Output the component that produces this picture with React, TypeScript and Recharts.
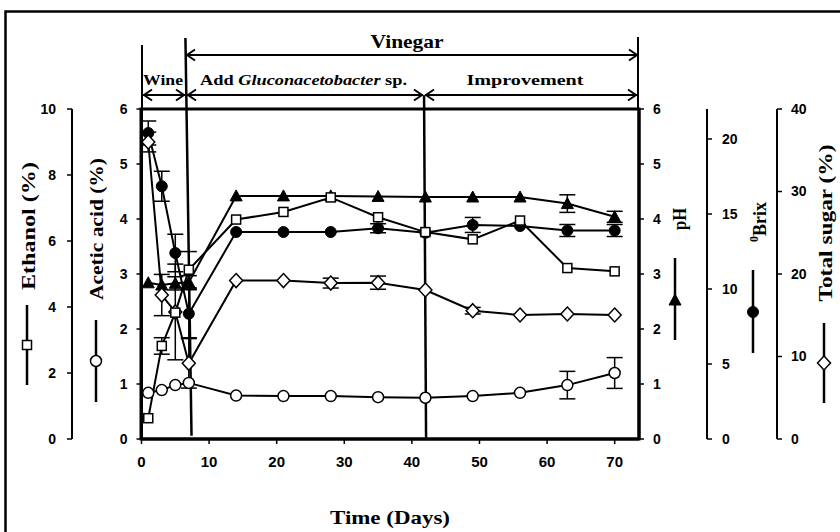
import React from 'react';
import { LineChart, Line, XAxis, YAxis, ErrorBar, ReferenceLine } from 'recharts';

// ---- data ----
const days = [1, 3, 5, 7, 14, 21, 28, 35, 42, 49, 56, 63, 70];
const ethanol = [0.63, 2.82, 3.83, 5.13, 6.65, 6.88, 7.32, 6.72, 6.27, 6.05, 6.62, 5.18, 5.08];
const ethanolErr = [null, 0.25, null, 0.55, null, null, null, null, null, null, null, null, null];
const aceticAcid = [0.84, 0.89, 0.98, 1.02, 0.79, 0.78, 0.78, 0.76, 0.75, 0.78, 0.84, 0.98, 1.2];
const aceticErr = [null, null, null, null, null, null, null, null, null, null, null, 0.25, 0.28];
const pH = [2.84, 2.8, 2.83, 2.85, 4.42, 4.42, 4.42, 4.41, 4.4, 4.4, 4.4, 4.28, 4.04];
const pHErr = [null, null, 0.12, 0.12, null, null, null, null, null, null, null, 0.16, 0.1];
const brix = [20.4, 16.85, 12.4, 8.35, 13.8, 13.8, 13.8, 14.05, 13.75, 14.27, 14.2, 13.9, 13.9];
const brixErr = [0.8, 1.0, 1.25, 1.6, null, null, null, 0.3, null, 0.5, null, 0.4, 0.4];
const sugar = [36.0, 17.45, 15.4, 9.17, 19.2, 19.2, 18.9, 18.95, 18.06, 15.55, 15.03, 15.15, 15.03];
const sugarErr = [1.2, 2.5, 5.8, 3.0, null, null, 0.6, 0.8, null, 0.4, null, null, null];

const xTicks = [0, 10, 20, 30, 40, 50, 60, 70];
const acidTicks = [0, 1, 2, 3, 4, 5, 6];
const ethTicks = [0, 2, 4, 6, 8, 10];
const phTicks = [0, 1, 2, 3, 4, 5, 6];
const brixTicks = [0, 5, 10, 15, 20];
const sugarTicks = [0, 10, 20, 30, 40];

const rows = days.map((d, i) => ({
  day: d,
  ethanol: ethanol[i],
  ethanolErr: ethanolErr[i],
  acid: aceticAcid[i],
  acidErr: aceticErr[i],
  ph: pH[i],
  phErr: pHErr[i],
  brix: brix[i],
  brixErr: brixErr[i],
  sugar: sugar[i],
  sugarErr: sugarErr[i],
}));

// ---- marker shapes ----
const sq = (cx: number, cy: number, k?: string) => (
  <rect key={k} x={cx - 4.5} y={cy - 4.5} width={9} height={9} fill="#fff" stroke="#000" strokeWidth={1.5} />
);
const oc = (cx: number, cy: number, k?: string) => (
  <circle key={k} cx={cx} cy={cy} r={5.5} fill="#fff" stroke="#000" strokeWidth={1.5} />
);
const tri = (cx: number, cy: number, k?: string) => (
  <path key={k} d={`M${cx},${cy - 6} L${cx + 6},${cy + 5} L${cx - 6},${cy + 5} Z`} fill="#000" stroke="#000" strokeWidth={1} />
);
const fc = (cx: number, cy: number, k?: string) => (
  <circle key={k} cx={cx} cy={cy} r={5.5} fill="#000" stroke="#000" strokeWidth={1} />
);
const dia = (cx: number, cy: number, k?: string) => (
  <path key={k} d={`M${cx},${cy - 7} L${cx + 6.5},${cy} L${cx},${cy + 7} L${cx - 6.5},${cy} Z`} fill="#fff" stroke="#000" strokeWidth={1.5} />
);

const dotOf = (fn: any, name: string) => (p: any) =>
  p.cx == null || p.cy == null ? <g key={`${name}-${p.index}`} /> : fn(p.cx, p.cy, `${name}-${p.index}`);

const tickFont = { fill: '#000', fontSize: 14, fontWeight: 'bold', fontFamily: 'Liberation Sans, Arial, sans-serif' };
const axisLineThin = { stroke: '#000', strokeWidth: 2 };
const axisLineThick = { stroke: '#000', strokeWidth: 3 };
const tickLineStyle = { stroke: '#000', strokeWidth: 1.5 };

const serif = 'Liberation Serif, Times New Roman, serif';

const arrow = (x1: number, x2: number, y: number, k: string) => (
  <g key={k} stroke="#000" strokeWidth={2} fill="none">
    <line x1={x1} y1={y} x2={x2} y2={y} />
    <polyline points={`${x1 + 9},${y - 5.5} ${x1 + 1},${y} ${x1 + 9},${y + 5.5}`} />
    <polyline points={`${x2 - 9},${y - 5.5} ${x2 - 1},${y} ${x2 - 9},${y + 5.5}`} />
  </g>
);

const vTitle = (txt: any, cx: number, cy: number, len: number, k: string) => (
  <text
    key={k}
    x={0}
    y={0}
    transform={`translate(${cx},${cy}) rotate(-90)`}
    textAnchor="middle"
    dominantBaseline="central"
    fontFamily={serif}
    fontWeight="bold"
    fontSize={18}
    textLength={len}
    lengthAdjust="spacingAndGlyphs"
    fill="#000"
  >
    {txt}
  </text>
);

const legendSym = (x: number, y1: number, y2: number, my: number, fn: any, k: string) => (
  <g key={k}>
    <line x1={x} y1={y1} x2={x} y2={y2} stroke="#000" strokeWidth={2.5} />
    {fn(x, my)}
  </g>
);

export default function App() {
  return (
    <div style={{ position: 'absolute', left: 0, top: 0, width: 840, height: 532, background: '#fff' }}>
      <LineChart
        width={840}
        height={532}
        data={rows}
        margin={{ top: 109, right: 23, bottom: 63, left: 11 }}
      >
        <XAxis
          type="number"
          dataKey="day"
          domain={[0, 73.6]}
          ticks={xTicks}
          allowDataOverflow
          height={30}
          tickSize={5}
          tickMargin={12}
          axisLine={axisLineThick}
          tickLine={tickLineStyle}
          tick={{ ...tickFont, fontSize: 15 }}
        />
        <YAxis
          yAxisId="l1_acid"
          orientation="left"
          width={69.5}
          domain={[0, 6]}
          ticks={acidTicks}
          allowDataOverflow
          tickSize={5}
          tickMargin={9}
          axisLine={axisLineThick}
          tickLine={tickLineStyle}
          tick={tickFont}
        />
        <YAxis
          yAxisId="l2_eth"
          orientation="left"
          width={61}
          domain={[0, 10]}
          ticks={ethTicks}
          allowDataOverflow
          tickSize={5}
          tickMargin={11}
          axisLine={axisLineThin}
          tickLine={tickLineStyle}
          tick={tickFont}
        />
        <YAxis
          yAxisId="r1_ph"
          orientation="right"
          width={68}
          domain={[0, 6]}
          ticks={phTicks}
          allowDataOverflow
          tickSize={5}
          tickMargin={9}
          axisLine={axisLineThick}
          tickLine={tickLineStyle}
          tick={tickFont}
        />
        <YAxis
          yAxisId="r2_brix"
          orientation="right"
          width={70}
          domain={[0, 22]}
          ticks={brixTicks}
          allowDataOverflow
          tickSize={5}
          tickMargin={10}
          axisLine={axisLineThin}
          tickLine={tickLineStyle}
          tick={tickFont}
        />
        <YAxis
          yAxisId="r3_sugar"
          orientation="right"
          width={40}
          domain={[0, 40]}
          ticks={sugarTicks}
          allowDataOverflow
          tickSize={5}
          tickMargin={9}
          axisLine={axisLineThin}
          tickLine={tickLineStyle}
          tick={tickFont}
        />

        <ReferenceLine
          yAxisId="l1_acid"
          segment={[{ x: 6.5, y: 7.29 }, { x: 7.4, y: 0.06 }]}
          ifOverflow="visible"
          stroke="#000"
          strokeWidth={2.5}
        />
        <ReferenceLine
          yAxisId="l1_acid"
          segment={[{ x: 41.8, y: 6.25 }, { x: 42.1, y: 0 }]}
          ifOverflow="visible"
          stroke="#000"
          strokeWidth={2.5}
        />

        <Line yAxisId="r1_ph" dataKey="ph" stroke="#000" strokeWidth={2} isAnimationActive={false} dot={dotOf(tri, 'ph')}>
          <ErrorBar dataKey="phErr" width={8} stroke="#000" strokeWidth={1.5} direction="y" />
        </Line>
        <Line yAxisId="r2_brix" dataKey="brix" stroke="#000" strokeWidth={2} isAnimationActive={false} dot={dotOf(fc, 'bx')}>
          <ErrorBar dataKey="brixErr" width={8} stroke="#000" strokeWidth={1.5} direction="y" />
        </Line>
        <Line yAxisId="r3_sugar" dataKey="sugar" stroke="#000" strokeWidth={2} isAnimationActive={false} dot={dotOf(dia, 'sg')}>
          <ErrorBar dataKey="sugarErr" width={8} stroke="#000" strokeWidth={1.5} direction="y" />
        </Line>
        <Line yAxisId="l2_eth" dataKey="ethanol" stroke="#000" strokeWidth={2} isAnimationActive={false} dot={dotOf(sq, 'et')}>
          <ErrorBar dataKey="ethanolErr" width={8} stroke="#000" strokeWidth={1.5} direction="y" />
        </Line>
        <Line yAxisId="l1_acid" dataKey="acid" stroke="#000" strokeWidth={2} isAnimationActive={false} dot={dotOf(oc, 'ac')}>
          <ErrorBar dataKey="acidErr" width={8} stroke="#000" strokeWidth={1.5} direction="y" />
        </Line>
      </LineChart>

      <svg
        width={840}
        height={532}
        style={{ position: 'absolute', left: 0, top: 0, pointerEvents: 'none', overflow: 'visible' }}
      >
        {/* outer frame */}
        <rect x={5.5} y={11.5} width={850} height={540} fill="none" stroke="#000" strokeWidth={2.5} />
        {/* plot box */}
        <rect x={141} y={109} width={498} height={330} fill="none" stroke="#000" strokeWidth={3} />

        {/* stage brackets */}
        <line x1={142} y1={45} x2={142} y2={109} stroke="#000" strokeWidth={2} />
        <line x1={638} y1={37} x2={638} y2={109} stroke="#000" strokeWidth={2} />
        {arrow(186, 638, 55, 'a-vin')}
        {arrow(143, 185, 95, 'a-wine')}
        {arrow(187, 423, 95, 'a-add')}
        {arrow(425, 637, 95, 'a-imp')}
        <text x={407} y={48} textAnchor="middle" fontFamily={serif} fontWeight="bold" fontSize={19} textLength={73} lengthAdjust="spacingAndGlyphs">
          Vinegar
        </text>
        <text x={163} y={85} textAnchor="middle" fontFamily={serif} fontWeight="bold" fontSize={15} textLength={40} lengthAdjust="spacingAndGlyphs">
          Wine
        </text>
        <text x={303.5} y={85} textAnchor="middle" fontFamily={serif} fontWeight="bold" fontSize={15} textLength={207} lengthAdjust="spacingAndGlyphs">
          Add <tspan fontStyle="italic">Gluconacetobacter</tspan> sp.
        </text>
        <text x={525} y={85} textAnchor="middle" fontFamily={serif} fontWeight="bold" fontSize={15} textLength={117} lengthAdjust="spacingAndGlyphs">
          Improvement
        </text>

        {/* axis titles */}
        {vTitle('Ethanol (%)', 29, 226, 128, 't-eth')}
        {vTitle('Acetic acid (%)', 97, 229, 142, 't-ac')}
        {vTitle('pH', 680, 219, 22, 't-ph')}
        <text
          x={0}
          y={0}
          transform="translate(760,222) rotate(-90)"
          textAnchor="middle"
          dominantBaseline="central"
          fontFamily={serif}
          fontWeight="bold"
          fontSize={18}
          fill="#000"
        >
          <tspan fontSize={12} dy={-6}>0</tspan>
          <tspan dy={6}>Brix</tspan>
        </text>
        {vTitle('Total sugar (%)', 826, 223, 157, 't-sg')}

        {/* legend symbols */}
        {legendSym(27, 305, 385, 345, sq, 'l-eth')}
        {legendSym(96, 320, 402, 361, oc, 'l-ac')}
        {legendSym(675, 258, 340, 300, tri, 'l-ph')}
        {legendSym(753, 270, 353, 312, fc, 'l-bx')}
        {legendSym(824, 323, 403, 363, dia, 'l-sg')}

        <text x={390} y={524} textAnchor="middle" fontFamily={serif} fontWeight="bold" fontSize={19} textLength={120} lengthAdjust="spacingAndGlyphs">
          Time (Days)
        </text>
      </svg>
    </div>
  );
}
